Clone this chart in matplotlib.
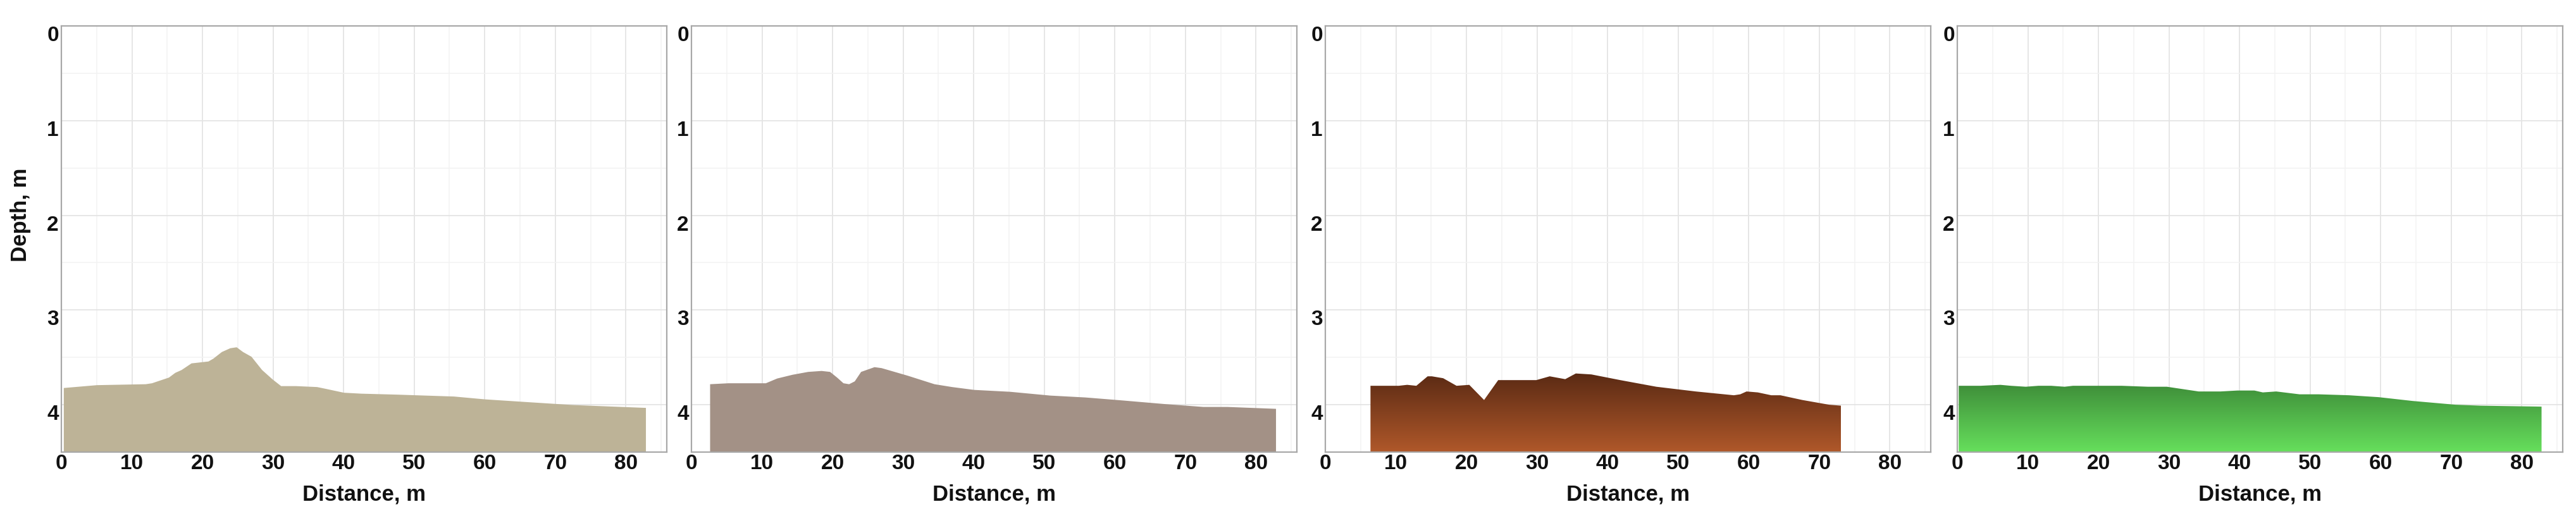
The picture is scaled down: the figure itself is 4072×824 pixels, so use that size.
import numpy as np
import matplotlib.pyplot as plt
from matplotlib.colors import LinearSegmentedColormap
from matplotlib.transforms import ScaledTranslation

plt.rcParams['font.family'] = ['Liberation Sans', 'DejaVu Sans']

# profile 1 (sand)
dist_1 = [0.3, 5.0, 11.9, 12.8, 15.2, 16.1, 17.0, 18.4, 20.8, 21.5, 22.7, 23.9, 24.8,
          25.7, 26.9, 28.4, 29.9, 31.1, 33.2, 36.2, 37.5, 40.0, 42.5, 47.5, 55.6,
          60.0, 66.2, 72.5, 82.8]
depth_1 = [3.82, 3.79, 3.78, 3.77, 3.71, 3.66, 3.63, 3.56, 3.54, 3.51, 3.44, 3.40, 3.39,
           3.44, 3.49, 3.63, 3.73, 3.80, 3.80, 3.81, 3.83, 3.87, 3.88, 3.89, 3.91,
           3.94, 3.97, 4.00, 4.03]

# profile 2 (grey-brown)
dist_2 = [2.6, 5.2, 10.5, 12.1, 14.3, 16.5, 18.4, 19.6, 20.6, 21.5, 22.3, 23.1, 24.0,
          25.9, 26.9, 30.6, 34.4, 36.9, 40.0, 45.1, 50.8, 55.8, 60.8, 67.1, 72.5,
          75.9, 82.8]
depth_2 = [3.78, 3.77, 3.77, 3.72, 3.68, 3.65, 3.64, 3.65, 3.71, 3.77, 3.78, 3.75, 3.65,
           3.60, 3.61, 3.69, 3.78, 3.81, 3.84, 3.86, 3.90, 3.92, 3.95, 3.99, 4.02,
           4.02, 4.04]

# profile 3 (brown)
dist_3 = [6.4, 10.4, 11.6, 12.9, 14.5, 15.1, 16.7, 18.6, 20.4, 22.5, 24.5, 29.9, 31.8,
          34.0, 35.5, 37.7, 41.8, 46.9, 52.5, 57.9, 58.8, 59.7, 61.3, 63.2, 64.5,
          67.6, 71.4, 73.1]
depth_3 = [3.80, 3.80, 3.79, 3.80, 3.70, 3.70, 3.72, 3.80, 3.79, 3.95, 3.74, 3.74, 3.70,
           3.73, 3.67, 3.68, 3.74, 3.81, 3.86, 3.90, 3.89, 3.86, 3.87, 3.90, 3.90,
           3.95, 4.00, 4.01]

# profile 4 (green)
dist_4 = [0.2, 3.3, 6.1, 7.6, 9.7, 11.5, 13.3, 15.2, 16.4, 20.0, 23.3, 27.0, 29.7,
          31.5, 34.2, 37.3, 39.7, 42.1, 43.3, 45.2, 48.5, 51.2, 55.5, 59.7, 64.5,
          70.6, 74.2, 82.8]
depth_4 = [3.80, 3.80, 3.79, 3.80, 3.81, 3.80, 3.80, 3.81, 3.80, 3.80, 3.80, 3.81, 3.81,
           3.83, 3.86, 3.86, 3.85, 3.85, 3.87, 3.86, 3.89, 3.89, 3.90, 3.92, 3.96,
           4.00, 4.01, 4.02]

profiles = [(dist_1, depth_1), (dist_2, depth_2), (dist_3, depth_3), (dist_4, depth_4)]
fills = ['#bdb397', '#a39186', ('#5a2a14', '#b0582a'), ('#3f8f3a', '#66df5c')]

x_ticks = [0, 10, 20, 30, 40, 50, 60, 70, 80]
y_ticks = [0, 1, 2, 3, 4]
x_max = 85.8
y_max = 4.5

W, H = 4073, 824
fig = plt.figure(figsize=(W / 100, H / 100), dpi=100)
lefts = [97, 1093, 2095, 3094]
ax_w = 957
top, bottom = 41, 715

for i, ((xs, ds), fc) in enumerate(zip(profiles, fills)):
    ax = fig.add_axes([lefts[i] / W, 1 - bottom / H, ax_w / W, (bottom - top) / H])
    ax.set_xlim(0, x_max)
    ax.set_ylim(y_max, 0)
    ax.set_xticks(x_ticks)
    ax.set_yticks(y_ticks)
    ax.set_xticks(np.arange(5, 86, 10), minor=True)
    ax.set_yticks([0.5, 1.5, 2.5, 3.5], minor=True)
    ax.grid(which='major', color='#e4e4e4', lw=1.3)
    ax.grid(which='minor', color='#f3f3f3', lw=1.1)
    ax.set_axisbelow(True)
    ax.tick_params(which='both', length=0)
    ax.tick_params(axis='x', pad=2)
    ax.tick_params(axis='y', pad=3)
    for lab in ax.get_xticklabels() + ax.get_yticklabels():
        lab.set_fontsize(24)
        lab.set_fontweight('bold')
        lab.set_color('#111111')
    for lab in ax.get_yticklabels():
        lab.set_transform(lab.get_transform() + ScaledTranslation(0, -0.12, fig.dpi_scale_trans))
    for sp in ax.spines.values():
        sp.set_color('#a8a8a8')
        sp.set_linewidth(1.6)

    xs = np.array(xs)
    ds = np.array(ds)
    if isinstance(fc, str):
        ax.fill_between(xs, ds, y_max, color=fc, lw=0, zorder=2)
    else:
        poly = ax.fill_between(xs, ds, y_max, color='none', lw=0, zorder=2)
        cmap = LinearSegmentedColormap.from_list('g%d' % i, list(fc))
        grad = np.linspace(0, 1, 256).reshape(-1, 1)
        im = ax.imshow(grad, cmap=cmap, aspect='auto', zorder=2,
                       extent=[xs[0], xs[-1], y_max, ds.min()], origin='upper')
        im.set_clip_path(poly.get_paths()[0], transform=ax.transData)
        ax.set_xlim(0, x_max)
        ax.set_ylim(y_max, 0)

    ax.set_xlabel('Distance, m', fontsize=25, fontweight='bold', color='#111111', labelpad=12)
    if i == 0:
        ax.set_ylabel('Depth, m', fontsize=25, fontweight='bold', color='#111111')
        ax.yaxis.set_label_coords(-0.05, 0.556)

fig.savefig('out.png', dpi=100, facecolor='white')
